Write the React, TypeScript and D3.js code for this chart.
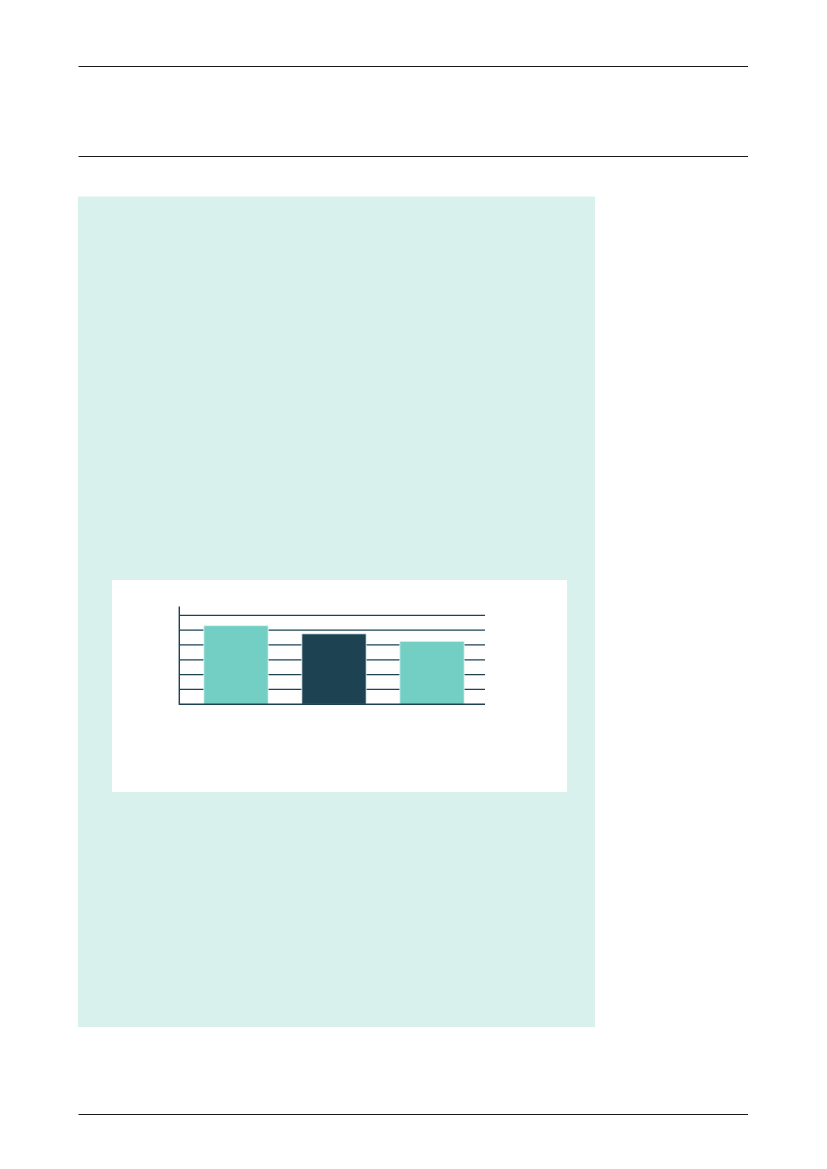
import React, { useRef, useEffect } from "react";
import * as d3 from "d3";

const categories = ["A", "B", "C"];
const values = [5.3, 4.75, 4.25];
const barColors = ["#73cfc4", "#1d4353", "#73cfc4"];
const gridTicks = [1, 2, 3, 4, 5, 6];

const ink = "#1d4353";

const App: React.FC = () => {
  const ref = useRef<SVGSVGElement | null>(null);

  useEffect(() => {
    if (!ref.current) return;
    const svg = d3.select(ref.current);
    svg.selectAll("*").remove();

    // page rules
    const rules = svg.append("g").attr("stroke", "#1a1a1a").attr("stroke-width", 1.1);
    [66.5, 156.5, 1114.5].forEach((y) =>
      rules.append("line").attr("x1", 78.5).attr("x2", 748).attr("y1", y).attr("y2", y)
    );

    // tinted panel with white chart card
    svg.append("rect").attr("x", 78).attr("y", 196.5).attr("width", 517).attr("height", 830.5).attr("fill", "#d9f1ec");
    svg.append("rect").attr("x", 112).attr("y", 580).attr("width", 455).attr("height", 212).attr("fill", "#fff");

    const y = d3.scaleLinear().domain([0, 6]).range([704.3, 615.3]);
    const x = d3
      .scaleBand<string>()
      .domain(categories)
      .range([187, 481])
      .paddingInner(0.344)
      .paddingOuter(0.172);

    const g = svg.append("g");

    // gridlines
    g.append("g")
      .attr("stroke", ink)
      .attr("stroke-width", 1.3)
      .selectAll("line")
      .data(gridTicks)
      .join("line")
      .attr("x1", 179.3)
      .attr("x2", 485)
      .attr("y1", (d) => y(d))
      .attr("y2", (d) => y(d));

    // bars
    g.append("g")
      .selectAll("rect")
      .data(values)
      .join("rect")
      .attr("x", (_d, i) => x(categories[i])!)
      .attr("width", x.bandwidth())
      .attr("y", (d) => y(d))
      .attr("height", (d) => y(0) - y(d))
      .attr("fill", (_d, i) => barColors[i])
      .attr("stroke", "#e3f5f1")
      .attr("stroke-width", 0.8);

    // axes
    g.append("line")
      .attr("x1", 179.3)
      .attr("x2", 179.3)
      .attr("y1", y(0) + 0.7)
      .attr("y2", y(6.6))
      .attr("stroke", ink)
      .attr("stroke-width", 1.4);
    g.append("line")
      .attr("x1", 179.3)
      .attr("x2", 485)
      .attr("y1", y(0))
      .attr("y2", y(0))
      .attr("stroke", ink)
      .attr("stroke-width", 1.4);
  }, []);

  return (
    <svg
      ref={ref}
      width={827}
      height={1169}
      style={{ position: "absolute", left: 0, top: 0, background: "#fff" }}
    />
  );
};

export default App;
